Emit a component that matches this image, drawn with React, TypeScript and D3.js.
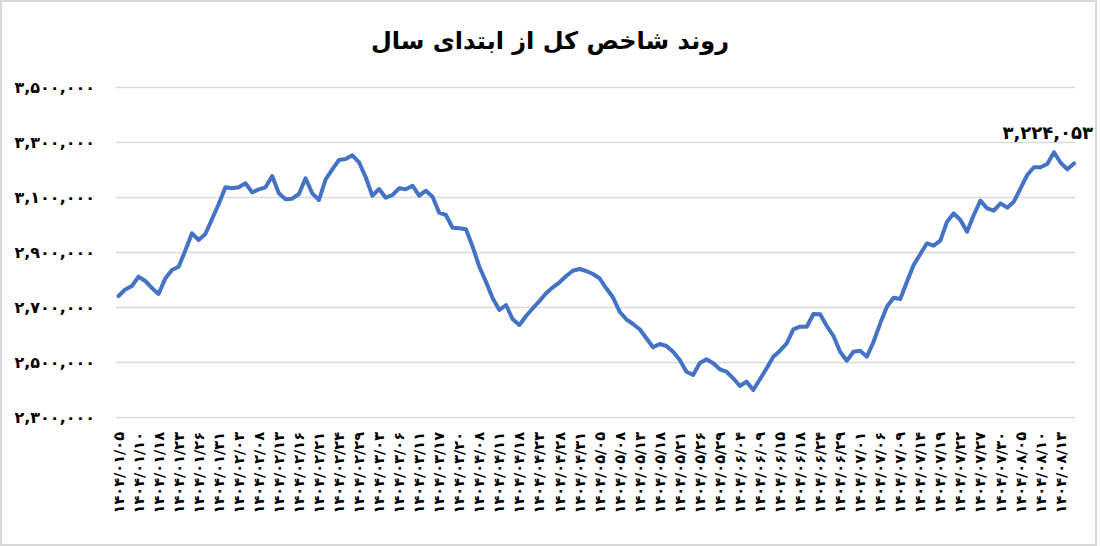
import React from "react";
import * as d3 from "d3";

const title = "روند شاخص کل از ابتدای سال";

const values: number[] = [
  2741800, 2765500, 2778200, 2812000, 2796400, 2770900, 2749100, 2805500, 2836400, 2848400,
  2907300, 2969800, 2945500, 2967300, 3021800, 3076400, 3137100, 3133500, 3137100, 3151600,
  3118900, 3129800, 3137100, 3178200, 3115300, 3093500, 3095600, 3112700, 3169800, 3115300,
  3090900, 3166200, 3202500, 3236400, 3240000, 3253500, 3228000, 3173500, 3106500, 3130900,
  3099300, 3109100, 3133500, 3129800, 3142900, 3106500, 3124700, 3102900, 3044700, 3036400,
  2990200, 2988000, 2984400, 2921100, 2848400, 2793800, 2733500, 2690900, 2709100, 2657100,
  2636400, 2669100, 2697100, 2723600, 2751600, 2773500, 2791600, 2814500, 2833800, 2840000,
  2832700, 2821800, 2806200, 2769800, 2737100, 2684700, 2657100, 2640000, 2620700, 2588000,
  2555300, 2567300, 2560000, 2539300, 2509100, 2466500, 2454500, 2498200, 2511600, 2497100,
  2475300, 2466500, 2442500, 2414500, 2430200, 2400000, 2438900, 2478900, 2521100, 2542900,
  2569800, 2620700, 2630200, 2630200, 2676400, 2675300, 2632700, 2596400, 2539300, 2506500,
  2539300, 2542900, 2521100, 2575600, 2642500, 2702900, 2735600, 2730900, 2793800, 2854500,
  2894500, 2933500, 2924700, 2942900, 3012000, 3042500, 3018200, 2975600, 3036400, 3088400,
  3060700, 3052000, 3078900, 3062900, 3084700, 3133500, 3181800, 3209800, 3209800, 3221800,
  3264400, 3226500, 3202500, 3224053,
];

const lastLabel = "۳,۲۲۴,۰۵۳";

const tickLabels: string[] = [
  "۱۴۰۴/۰۱/۰۵", "۱۴۰۴/۰۱/۱۰", "۱۴۰۴/۰۱/۱۸", "۱۴۰۴/۰۱/۲۳", "۱۴۰۴/۰۱/۲۶", "۱۴۰۴/۰۱/۳۱",
  "۱۴۰۴/۰۲/۰۳", "۱۴۰۴/۰۲/۰۸", "۱۴۰۴/۰۲/۱۳", "۱۴۰۴/۰۲/۱۶", "۱۴۰۴/۰۲/۲۱", "۱۴۰۴/۰۲/۲۴",
  "۱۴۰۴/۰۲/۲۹", "۱۴۰۴/۰۳/۰۳", "۱۴۰۴/۰۳/۰۶", "۱۴۰۴/۰۳/۱۱", "۱۴۰۴/۰۳/۱۷", "۱۴۰۴/۰۳/۲۰",
  "۱۴۰۴/۰۴/۰۸", "۱۴۰۴/۰۴/۱۱", "۱۴۰۴/۰۴/۱۸", "۱۴۰۴/۰۴/۲۳", "۱۴۰۴/۰۴/۲۸", "۱۴۰۴/۰۴/۳۱",
  "۱۴۰۴/۰۵/۰۵", "۱۴۰۴/۰۵/۰۸", "۱۴۰۴/۰۵/۱۳", "۱۴۰۴/۰۵/۱۸", "۱۴۰۴/۰۵/۲۱", "۱۴۰۴/۰۵/۲۶",
  "۱۴۰۴/۰۵/۲۹", "۱۴۰۴/۰۶/۰۴", "۱۴۰۴/۰۶/۰۹", "۱۴۰۴/۰۶/۱۵", "۱۴۰۴/۰۶/۱۸", "۱۴۰۴/۰۶/۲۴",
  "۱۴۰۴/۰۶/۲۹", "۱۴۰۴/۰۷/۰۱", "۱۴۰۴/۰۷/۰۶", "۱۴۰۴/۰۷/۰۹", "۱۴۰۴/۰۷/۱۴", "۱۴۰۴/۰۷/۱۹",
  "۱۴۰۴/۰۷/۲۲", "۱۴۰۴/۰۷/۲۷", "۱۴۰۴/۰۷/۳۰", "۱۴۰۴/۰۸/۰۵", "۱۴۰۴/۰۸/۱۰", "۱۴۰۴/۰۸/۱۳",
];
const tickEvery = 3;

const yTicks: number[] = [2300000, 2500000, 2700000, 2900000, 3100000, 3300000, 3500000];
const yTickLabels: string[] = [
  "۲,۳۰۰,۰۰۰", "۲,۵۰۰,۰۰۰", "۲,۷۰۰,۰۰۰", "۲,۹۰۰,۰۰۰", "۳,۱۰۰,۰۰۰", "۳,۳۰۰,۰۰۰", "۳,۵۰۰,۰۰۰",
];

const W = 1100;
const H = 546;
const FONT = "'DejaVu Sans', sans-serif";

export default function App() {
  const idx = d3.range(values.length);
  const x = d3.scalePoint<number>().domain(idx).range([118.5, 1074]);
  const y = d3.scaleLinear().domain([2300000, 3500000]).range([417.5, 87.5]);
  const line = d3
    .line<number>()
    .x((_, i) => x(i) as number)
    .y((d) => y(d));
  const lastX = x(values.length - 1) as number;
  const lastY = y(values[values.length - 1]);

  return (
    <div style={{ position: "fixed", left: 0, top: 0, width: W, height: H, background: "#fff" }}>
      <svg width={W} height={H} style={{ display: "block" }}>
        <rect x={1} y={1} width={W - 5} height={H - 2} fill="#fff" stroke="#d9d9d9" strokeWidth={2} />
        <text
          x={550}
          y={49}
          textAnchor="middle"
          fontFamily={FONT}
          fontWeight="bold"
          fontSize={24}
          direction="rtl"
          fill="#000"
        >
          {title}
        </text>
        {yTicks.map((t, i) => (
          <g key={t}>
            <line x1={116} x2={1075} y1={y(t)} y2={y(t)} stroke="#d9d9d9" strokeWidth={1.3} />
            <text
              x={95}
              y={y(t)}
              textAnchor="end"
              dominantBaseline="central"
              fontFamily={FONT}
              fontWeight="bold"
              fontSize={16}
              fill="#000"
              direction="ltr"
            >
              {yTickLabels[i]}
            </text>
          </g>
        ))}
        <path d={line(values) ?? ""} fill="none" stroke="#4472C4" strokeWidth={4} strokeLinejoin="round" strokeLinecap="round" />
        {tickLabels.map((lab, k) => {
          const px = x(k * tickEvery) as number;
          return (
            <text
              key={k}
              transform={`translate(${px},432) rotate(-90)`}
              textAnchor="end"
              dominantBaseline="central"
              fontFamily={FONT}
              fontWeight="bold"
              fontSize={14.5}
              fill="#000"
              direction="ltr"
            >
              {lab}
            </text>
          );
        })}
        <text
          x={Math.min(lastX + 19, 1093)}
          y={lastY - 24}
          textAnchor="end"
          fontFamily={FONT}
          fontWeight="bold"
          fontSize={18}
          fill="#000"
          direction="ltr"
        >
          {lastLabel}
        </text>
      </svg>
    </div>
  );
}
